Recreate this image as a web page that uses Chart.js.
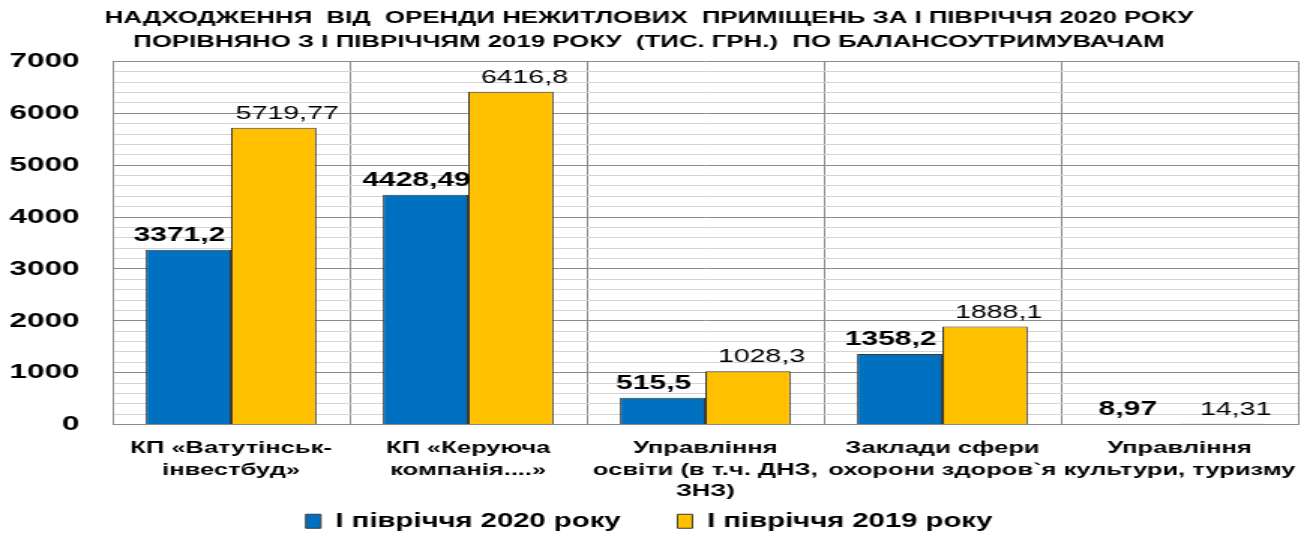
<!DOCTYPE html>
<html lang="uk">
<head>
<meta charset="utf-8">
<title>Надходження від оренди нежитлових приміщень</title>
<script src="https://cdn.jsdelivr.net/npm/chart.js@4.4.1/dist/chart.umd.min.js"></script>
<style>
  html, body { margin: 0; padding: 0; background: #fff; overflow: hidden; }
  /* the original picture is stretched sideways, so the chart is drawn narrow and scaled */
  #wrap { width: 869px; height: 536px; transform: scaleX(1.5006); transform-origin: 0 0; }
</style>
</head>
<body>
<div id="wrap"><canvas id="myChart"></canvas></div>
<script>
'use strict';

let titleLines = [
  'НАДХОДЖЕННЯ  ВІД  ОРЕНДИ НЕЖИТЛОВИХ  ПРИМІЩЕНЬ ЗА І ПІВРІЧЧЯ 2020 РОКУ',
  'ПОРІВНЯНО З І ПІВРІЧЧЯМ 2019 РОКУ  (ТИС. ГРН.)  ПО БАЛАНСОУТРИМУВАЧАМ'
];

let categories = [
  ['КП «Ватутінськ-', 'інвестбуд»'],
  ['КП «Керуюча', 'компанія....»'],
  ['Управління', 'освіти (в т.ч. ДНЗ,', 'ЗНЗ)'],
  ['Заклади сфери', 'охорони здоров`я'],
  ['Управління', 'культури, туризму']
];

let seriesNames = ['І півріччя 2020 року', 'І півріччя 2019 року'];
let values2020 = [3371.2, 4428.49, 515.5, 1358.2, 8.97];
let values2019 = [5719.77, 6416.8, 1028.3, 1888.1, 14.31];

let yMin = 0;
let yMax = 7000;
let yStep = 200;      // minor grid
let yLabelStep = 1000; // labelled ticks

let fontName = "'Liberation Sans', Arial, sans-serif";
Chart.defaults.color = '#000';

// value labels above the bars, like the excel ones
let valueLabels = {
  id: 'valueLabels',
  afterDatasetsDraw(chart) {
    let ctx = chart.ctx;
    ctx.save();
    ctx.fillStyle = '#000';
    ctx.textAlign = 'center';
    ctx.textBaseline = 'alphabetic';
    chart.data.datasets.forEach(function (ds, i) {
      let meta = chart.getDatasetMeta(i);
      ctx.font = (i === 0 ? 'bold 20px ' : '19px ') + fontName;
      let shift = i === 0 ? -6 : 9;
      meta.data.forEach(function (bar, j) {
        let txt = String(ds.data[j]).replace('.', ',');
        ctx.fillText(txt, bar.x + shift, bar.y - 9);
      });
    });
    ctx.restore();
  }
};

let ctx = document.getElementById('myChart').getContext('2d');
let myChart = new Chart(ctx, {
  type: 'bar',
  data: {
    labels: categories,
    datasets: [{
      label: seriesNames[0],
      data: values2020,
      backgroundColor: '#0070C0',
      borderColor: '#3a3a3a',
      borderWidth: 1
    }, {
      label: seriesNames[1],
      data: values2019,
      backgroundColor: '#FFC000',
      borderColor: '#3a3a3a',
      borderWidth: 1
    }]
  },
  options: {
    responsive: true,
    maintainAspectRatio: false,
    animation: false,
    layout: { padding: { left: 0, right: 4, top: 0, bottom: -5 } },
    datasets: {
      bar: { categoryPercentage: 0.72, barPercentage: 1 }
    },
    plugins: {
      title: {
        display: true,
        text: titleLines,
        color: '#000',
        font: { family: fontName, size: 17.2, weight: 'bold', lineHeight: 1.35 },
        padding: { top: 7, bottom: 8 }
      },
      legend: {
        position: 'bottom',
        labels: {
          boxWidth: 10,
          boxHeight: 14,
          padding: 0,
          color: '#000',
          font: { family: fontName, size: 19.5, weight: 'bold' },
          generateLabels: function (chart) {
            let items = Chart.defaults.plugins.legend.labels.generateLabels(chart);
            items[0].text += '       '; // wider gap between the two entries
            return items;
          }
        }
      },
      tooltip: { enabled: false }
    },
    scales: {
      x: {
        afterFit: function (scale) {
          scale.height = 87;
          // the last label may stick out a bit, like in the original
          scale.paddingLeft = 0;
          scale.paddingRight = 0;
        },
        grid: { offset: true, color: '#8c8c8c', drawTicks: false },
        border: { color: '#8c8c8c' },
        ticks: {
          padding: 13,
          maxRotation: 0,
          autoSkip: false,
          color: '#000',
          font: { family: fontName, size: 17, weight: 'bold', lineHeight: 1.27 }
        }
      },
      y: {
        min: yMin,
        max: yMax,
        afterFit: function (scale) { scale.width = 75; },
        grid: {
          drawTicks: false,
          color: function (c) {
            return c.tick && c.tick.value % yLabelStep === 0 ? '#8c8c8c' : '#d4d4d4';
          }
        },
        border: { color: '#8c8c8c' },
        ticks: {
          stepSize: yStep,
          autoSkip: false,
          padding: 22,
          color: '#000',
          font: { family: fontName, size: 21, weight: 'bold' },
          callback: function (v) { return v % yLabelStep === 0 ? v : ''; }
        }
      }
    }
  },
  plugins: [valueLabels]
});
</script>
</body>
</html>
